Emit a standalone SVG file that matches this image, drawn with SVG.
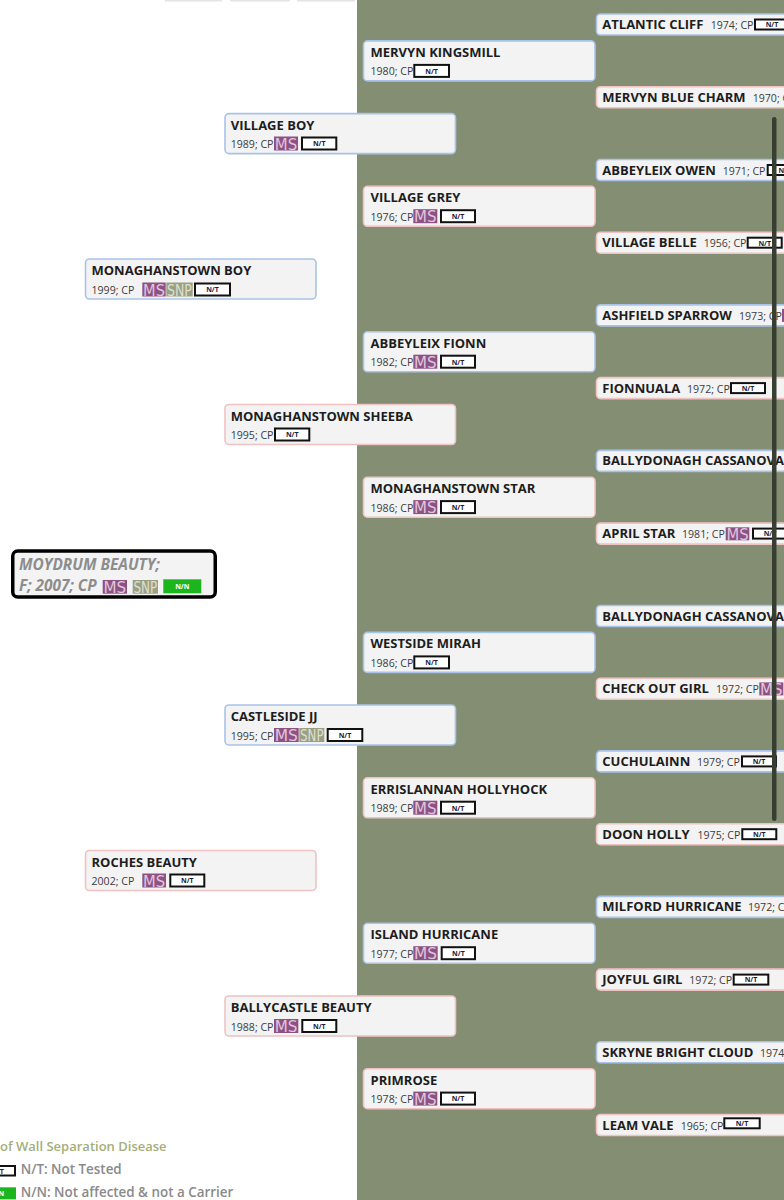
<svg xmlns="http://www.w3.org/2000/svg" width="784" height="1200" viewBox="0 0 784 1200">
<style>
.bx{fill:#f3f3f3;stroke-width:1.6}
.m{stroke:#a9c3e8}
.f{stroke:#f0c2c2}
.nm{font-family:"Open Sans","Liberation Sans",sans-serif;font-weight:700;font-size:13px;fill:#1d1d1d}
.yr{font-family:"Open Sans","Liberation Sans",sans-serif;font-size:10.6px;fill:#3c3c3c}
.msr{fill:#8c5284}
.mst{font-family:"DejaVu Sans Condensed","DejaVu Sans",sans-serif;font-size:16px;fill:#e2c4dd}
.snr{fill:#9a9f84}
.snt{font-family:"DejaVu Sans Condensed","DejaVu Sans",sans-serif;font-size:16px;fill:#dde0cf}
.ntr{fill:#ffffff;stroke:#111111;stroke-width:2}
.ntt{font-family:"Open Sans","Liberation Sans",sans-serif;font-weight:700;font-size:7px;fill:#1b1b3b;text-anchor:middle}
.nnr{fill:#1db51d}
.nnt{font-family:"Open Sans","Liberation Sans",sans-serif;font-weight:700;font-size:7px;fill:#ffffff;text-anchor:middle}
.lg{font-family:"Open Sans","Liberation Sans",sans-serif;font-weight:600;font-size:13.4px;fill:#8a8a8a}
</style>
<rect x="0" y="0" width="784" height="1200" fill="#ffffff"/>
<rect x="357" y="0" width="427" height="1200" fill="#848e72"/>
<g id="topedge" fill="#e4e4e4">
<rect x="165" y="0" width="57" height="1.5"/>
<rect x="230" y="0" width="60" height="1.5"/>
<rect x="297" y="0" width="58" height="1.5"/>
</g>
<g id="connectors"></g>

<!-- Subject -->
<g id="subject">
<rect x="12.75" y="551" width="202.5" height="46" rx="5" fill="#f3f3f3" stroke="#000" stroke-width="3.5"/>
<text x="19" y="570" font-family="Open Sans, Liberation Sans, sans-serif" font-weight="700" font-style="italic" font-size="15.4" fill="#8d8d8d">MOYDRUM BEAUTY;</text>
<text x="19" y="591" font-family="Open Sans, Liberation Sans, sans-serif" font-weight="700" font-style="italic" font-size="15.4" fill="#8d8d8d">F; 2007; CP</text>
<rect class="msr" x="102.7" y="580" width="24.3" height="13.7"/>
<text class="mst" x="103.5" y="592.8" textLength="22.7" lengthAdjust="spacingAndGlyphs">MS</text>
<rect class="snr" x="132.7" y="580" width="25.3" height="13.7"/>
<text class="snt" x="133.5" y="592.8" textLength="23.7" lengthAdjust="spacingAndGlyphs">SNP</text>
<rect class="nnr" x="163.3" y="579.3" width="38" height="14"/>
<text class="nnt" x="182.3" y="588.8">N/N</text>
</g>

<!-- Generation 1 -->
<g id="monaghanstown-boy">
<rect class="bx m" x="85.5" y="259" width="230.5" height="40" rx="4"/>
<text class="nm" x="91.5" y="275">MONAGHANSTOWN BOY</text>
<text class="yr" x="91.5" y="293.5">1999; CP</text>
<rect class="msr" x="142.3" y="282.5" width="23.4" height="14"/>
<text class="mst" x="143.1" y="295.6" textLength="21.8" lengthAdjust="spacingAndGlyphs">MS</text>
<rect class="snr" x="166.3" y="282.5" width="26.4" height="14"/>
<text class="snt" x="167.1" y="295.6" textLength="24.8" lengthAdjust="spacingAndGlyphs">SNP</text>
<rect class="ntr" x="195" y="283.5" width="35" height="12"/>
<text class="ntt" x="212.5" y="292.3">N/T</text>
</g>
<g id="roches-beauty">
<rect class="bx f" x="85.5" y="850.5" width="230.5" height="40" rx="4"/>
<text class="nm" x="91.5" y="866.5">ROCHES BEAUTY</text>
<text class="yr" x="91.5" y="885">2002; CP</text>
<rect class="msr" x="142.3" y="873.5" width="23.7" height="14"/>
<text class="mst" x="143.1" y="886.6" textLength="22.1" lengthAdjust="spacingAndGlyphs">MS</text>
<rect class="ntr" x="170.3" y="874.5" width="34" height="12"/>
<text class="ntt" x="187.3" y="883.3">N/T</text>
</g>

<!-- Generation 2 -->
<g id="village-boy">
<rect class="bx m" x="225" y="113.6" width="230.5" height="40" rx="4"/>
<text class="nm" x="230.7" y="129.6">VILLAGE BOY</text>
<text class="yr" x="230.7" y="148">1989; CP</text>
<rect class="msr" x="274" y="136.5" width="24" height="14"/>
<text class="mst" x="274.8" y="149.6" textLength="22.4" lengthAdjust="spacingAndGlyphs">MS</text>
<rect class="ntr" x="302" y="137.5" width="34.3" height="12"/>
<text class="ntt" x="319.2" y="146.3">N/T</text>
</g>
<g id="monaghanstown-sheeba">
<rect class="bx f" x="225" y="404.5" width="230.5" height="40" rx="4"/>
<text class="nm" x="230.7" y="420.5">MONAGHANSTOWN SHEEBA</text>
<text class="yr" x="230.7" y="439">1995; CP</text>
<rect class="ntr" x="275" y="428.5" width="34.3" height="12"/>
<text class="ntt" x="292.2" y="437.3">N/T</text>
</g>
<g id="castleside-jj">
<rect class="bx m" x="225" y="705" width="230.5" height="40" rx="4"/>
<text class="nm" x="230.7" y="721">CASTLESIDE JJ</text>
<text class="yr" x="230.7" y="739.5">1995; CP</text>
<rect class="msr" x="274" y="728" width="24.7" height="14"/>
<text class="mst" x="274.8" y="741.1" textLength="23.1" lengthAdjust="spacingAndGlyphs">MS</text>
<rect class="snr" x="299.3" y="728" width="25" height="14"/>
<text class="snt" x="300.1" y="741.1" textLength="23.4" lengthAdjust="spacingAndGlyphs">SNP</text>
<rect class="ntr" x="327.7" y="729" width="34.6" height="12"/>
<text class="ntt" x="345" y="737.8">N/T</text>
</g>
<g id="ballycastle-beauty">
<rect class="bx f" x="225" y="996" width="230.5" height="40" rx="4"/>
<text class="nm" x="230.7" y="1012">BALLYCASTLE BEAUTY</text>
<text class="yr" x="230.7" y="1030.5">1988; CP</text>
<rect class="msr" x="274" y="1019" width="24.3" height="14"/>
<text class="mst" x="274.8" y="1032.1" textLength="22.7" lengthAdjust="spacingAndGlyphs">MS</text>
<rect class="ntr" x="302.3" y="1020" width="34" height="12"/>
<text class="ntt" x="319.3" y="1028.8">N/T</text>
</g>

<!-- Generation 3 -->
<g id="mervyn-kingsmill">
<rect class="bx m" x="363.5" y="40.9" width="231.5" height="40" rx="4"/>
<text class="nm" x="370.5" y="56.9">MERVYN KINGSMILL</text>
<text class="yr" x="370.5" y="75.3">1980; CP</text>
<rect class="ntr" x="414.3" y="64.9" width="34.7" height="12"/>
<text class="ntt" x="431.6" y="73.7">N/T</text>
</g>
<g id="village-grey">
<rect class="bx f" x="363.5" y="186.3" width="231.5" height="40" rx="4"/>
<text class="nm" x="370.5" y="202.3">VILLAGE GREY</text>
<text class="yr" x="370.5" y="220.7">1976; CP</text>
<rect class="msr" x="413.3" y="209.2" width="24" height="14"/>
<text class="mst" x="414.1" y="222.3" textLength="22.4" lengthAdjust="spacingAndGlyphs">MS</text>
<rect class="ntr" x="441" y="210.2" width="34" height="12"/>
<text class="ntt" x="458" y="219">N/T</text>
</g>
<g id="abbeyleix-fionn">
<rect class="bx m" x="363.5" y="331.8" width="231.5" height="40" rx="4"/>
<text class="nm" x="370.5" y="347.8">ABBEYLEIX FIONN</text>
<text class="yr" x="370.5" y="366.2">1982; CP</text>
<rect class="msr" x="413.3" y="354.7" width="24" height="14"/>
<text class="mst" x="414.1" y="367.8" textLength="22.4" lengthAdjust="spacingAndGlyphs">MS</text>
<rect class="ntr" x="441" y="355.7" width="34" height="12"/>
<text class="ntt" x="458" y="364.5">N/T</text>
</g>
<g id="monaghanstown-star">
<rect class="bx f" x="363.5" y="477.2" width="231.5" height="40" rx="4"/>
<text class="nm" x="370.5" y="493.2">MONAGHANSTOWN STAR</text>
<text class="yr" x="370.5" y="511.6">1986; CP</text>
<rect class="msr" x="413.3" y="500.1" width="24" height="14"/>
<text class="mst" x="414.1" y="513.2" textLength="22.4" lengthAdjust="spacingAndGlyphs">MS</text>
<rect class="ntr" x="441" y="501.1" width="34" height="12"/>
<text class="ntt" x="458" y="509.9">N/T</text>
</g>
<g id="westside-mirah">
<rect class="bx m" x="363.5" y="632.4" width="231.5" height="40" rx="4"/>
<text class="nm" x="370.5" y="648.4">WESTSIDE MIRAH</text>
<text class="yr" x="370.5" y="666.8">1986; CP</text>
<rect class="ntr" x="414.3" y="656.4" width="34.7" height="12"/>
<text class="ntt" x="431.6" y="665.2">N/T</text>
</g>
<g id="errislannan-hollyhock">
<rect class="bx f" x="363.5" y="777.8" width="231.5" height="40" rx="4"/>
<text class="nm" x="370.5" y="793.8">ERRISLANNAN HOLLYHOCK</text>
<text class="yr" x="370.5" y="812.2">1989; CP</text>
<rect class="msr" x="413.3" y="800.7" width="24" height="14"/>
<text class="mst" x="414.1" y="813.8" textLength="22.4" lengthAdjust="spacingAndGlyphs">MS</text>
<rect class="ntr" x="441" y="801.7" width="34" height="12"/>
<text class="ntt" x="458" y="810.5">N/T</text>
</g>
<g id="island-hurricane">
<rect class="bx m" x="363.5" y="923.3" width="231.5" height="40" rx="4"/>
<text class="nm" x="370.5" y="939.3">ISLAND HURRICANE</text>
<text class="yr" x="370.5" y="957.7">1977; CP</text>
<rect class="msr" x="413.3" y="946.2" width="24.4" height="14"/>
<text class="mst" x="414.1" y="959.3" textLength="22.8" lengthAdjust="spacingAndGlyphs">MS</text>
<rect class="ntr" x="441.7" y="947.2" width="33.3" height="12"/>
<text class="ntt" x="458.4" y="956">N/T</text>
</g>
<g id="primrose">
<rect class="bx f" x="363.5" y="1068.7" width="231.5" height="40" rx="4"/>
<text class="nm" x="370.5" y="1084.7">PRIMROSE</text>
<text class="yr" x="370.5" y="1103.1">1978; CP</text>
<rect class="msr" x="413.3" y="1091.6" width="24" height="14"/>
<text class="mst" x="414.1" y="1104.7" textLength="22.4" lengthAdjust="spacingAndGlyphs">MS</text>
<rect class="ntr" x="441" y="1092.6" width="34" height="12"/>
<text class="ntt" x="458" y="1101.4">N/T</text>
</g>

<!-- Generation 4 -->
<g id="atlantic-cliff">
<rect class="bx m" x="596.5" y="14" width="220" height="21" rx="4"/>
<text class="nm" x="602.3" y="29">ATLANTIC CLIFF</text>
<text class="yr" x="710.7" y="29">1974; CP</text>
<rect class="ntr" x="755" y="19.5" width="34" height="10"/>
<text class="ntt" x="772" y="27.3" font-size="6.5">N/T</text>
</g>
<g id="mervyn-blue-charm">
<rect class="bx f" x="596.5" y="86.7" width="220" height="21" rx="4"/>
<text class="nm" x="602.3" y="101.7">MERVYN BLUE CHARM</text>
<text class="yr" x="752.7" y="101.7">1970; CP</text>
</g>
<g id="abbeyleix-owen">
<rect class="bx m" x="596.5" y="159.5" width="220" height="21" rx="4"/>
<text class="nm" x="602.3" y="174.5">ABBEYLEIX OWEN</text>
<text class="yr" x="722.7" y="174.5">1971; CP</text>
<rect class="ntr" x="767.7" y="165" width="34" height="10"/>
<text class="ntt" x="784.7" y="172.8" font-size="6.5">N/T</text>
</g>
<g id="village-belle">
<rect class="bx f" x="596.5" y="232.2" width="220" height="21" rx="4"/>
<text class="nm" x="602.3" y="247.2">VILLAGE BELLE</text>
<text class="yr" x="703.7" y="247.2">1956; CP</text>
<rect class="ntr" x="747.7" y="237.7" width="34" height="10"/>
<text class="ntt" x="764.7" y="245.5" font-size="6.5">N/T</text>
</g>
<g id="ashfield-sparrow">
<rect class="bx m" x="596.5" y="304.9" width="220" height="21" rx="4"/>
<text class="nm" x="602.3" y="319.9">ASHFIELD SPARROW</text>
<text class="yr" x="739" y="319.9">1973; CP</text>
<rect class="msr" x="782" y="308.9" width="24" height="13"/>
</g>
<g id="fionnuala">
<rect class="bx f" x="596.5" y="377.6" width="220" height="21" rx="4"/>
<text class="nm" x="602.3" y="392.6">FIONNUALA</text>
<text class="yr" x="687" y="392.6">1972; CP</text>
<rect class="ntr" x="731" y="383.1" width="34" height="10"/>
<text class="ntt" x="748" y="390.9" font-size="6.5">N/T</text>
</g>
<g id="ballydonagh-cassanova-1">
<rect class="bx m" x="596.5" y="450.4" width="220" height="21" rx="4"/>
<text class="nm" x="602.3" y="465.4">BALLYDONAGH CASSANOVA</text>
</g>
<g id="april-star">
<rect class="bx f" x="596.5" y="523.1" width="220" height="21" rx="4"/>
<text class="nm" x="602.3" y="538.1">APRIL STAR</text>
<text class="yr" x="682" y="538.1">1981; CP</text>
<rect class="msr" x="725.7" y="527.3" width="23.6" height="13"/>
<text class="mst" x="726.5" y="539.6" font-size="15" textLength="22" lengthAdjust="spacingAndGlyphs">MS</text>
<rect class="ntr" x="753" y="528.6" width="34" height="10"/>
<text class="ntt" x="770" y="536.4" font-size="6.5">N/T</text>
</g>
<g id="ballydonagh-cassanova-2">
<rect class="bx m" x="596.5" y="605.5" width="220" height="21" rx="4"/>
<text class="nm" x="602.3" y="620.5">BALLYDONAGH CASSANOVA</text>
</g>
<g id="check-out-girl">
<rect class="bx f" x="596.5" y="678.2" width="220" height="21" rx="4"/>
<text class="nm" x="602.3" y="693.2">CHECK OUT GIRL</text>
<text class="yr" x="716" y="693.2">1972; CP</text>
<rect class="msr" x="759.3" y="682.4" width="24" height="13"/>
<text class="mst" x="760.1" y="694.7" font-size="15" textLength="22.4" lengthAdjust="spacingAndGlyphs">MS</text>
</g>
<g id="cuchulainn">
<rect class="bx m" x="596.5" y="750.9" width="220" height="21" rx="4"/>
<text class="nm" x="602.3" y="765.9">CUCHULAINN</text>
<text class="yr" x="697" y="765.9">1979; CP</text>
<rect class="ntr" x="742" y="756.4" width="34" height="10"/>
<text class="ntt" x="759" y="764.2" font-size="6.5">N/T</text>
</g>
<g id="doon-holly">
<rect class="bx f" x="596.5" y="823.7" width="220" height="21" rx="4"/>
<text class="nm" x="602.3" y="838.7">DOON HOLLY</text>
<text class="yr" x="697.5" y="838.7">1975; CP</text>
<rect class="ntr" x="742.3" y="829.2" width="34" height="10"/>
<text class="ntt" x="759.3" y="837" font-size="6.5">N/T</text>
</g>
<g id="milford-hurricane">
<rect class="bx m" x="596.5" y="896.4" width="220" height="21" rx="4"/>
<text class="nm" x="602.3" y="911.4">MILFORD HURRICANE</text>
<text class="yr" x="748" y="911.4">1972; CP</text>
</g>
<g id="joyful-girl">
<rect class="bx f" x="596.5" y="969.1" width="220" height="21" rx="4"/>
<text class="nm" x="602.3" y="984.1">JOYFUL GIRL</text>
<text class="yr" x="689.3" y="984.1">1972; CP</text>
<rect class="ntr" x="733.7" y="974.6" width="34.6" height="10"/>
<text class="ntt" x="751" y="982.4" font-size="6.5">N/T</text>
</g>
<g id="skryne-bright-cloud">
<rect class="bx m" x="596.5" y="1041.8" width="220" height="21" rx="4"/>
<text class="nm" x="602.3" y="1056.8">SKRYNE BRIGHT CLOUD</text>
<text class="yr" x="760" y="1056.8">1974</text>
</g>
<g id="leam-vale">
<rect class="bx f" x="596.5" y="1114.5" width="220" height="21" rx="4"/>
<text class="nm" x="602.3" y="1129.5">LEAM VALE</text>
<text class="yr" x="680.7" y="1129.5">1965; CP</text>
<rect class="ntr" x="724.3" y="1118.3" width="35.4" height="10"/>
<text class="ntt" x="742" y="1126.1" font-size="6.5">N/T</text>
</g>

<!-- scrollbar -->
<rect x="772" y="117" width="4.5" height="704" rx="2.2" fill="#393e33"/>

<!-- legend -->
<g id="legend">
<text x="0" y="1150.5" font-family="Open Sans, Liberation Sans, sans-serif" font-weight="600" font-size="13" fill="#a3ae7b">of Wall Separation Disease</text>
<rect class="ntr" x="-20" y="1166" width="35" height="9.5"/>
<text class="ntt" x="-2.5" y="1173.5">N/T</text>
<text class="lg" x="20.7" y="1174">N/T: Not Tested</text>
<rect class="nnr" x="-22" y="1187.3" width="38" height="12"/>
<text class="nnt" x="-3" y="1195.8">N/N</text>
<text class="lg" x="20.7" y="1197">N/N: Not affected &amp; not a Carrier</text>
</g>
</svg>
